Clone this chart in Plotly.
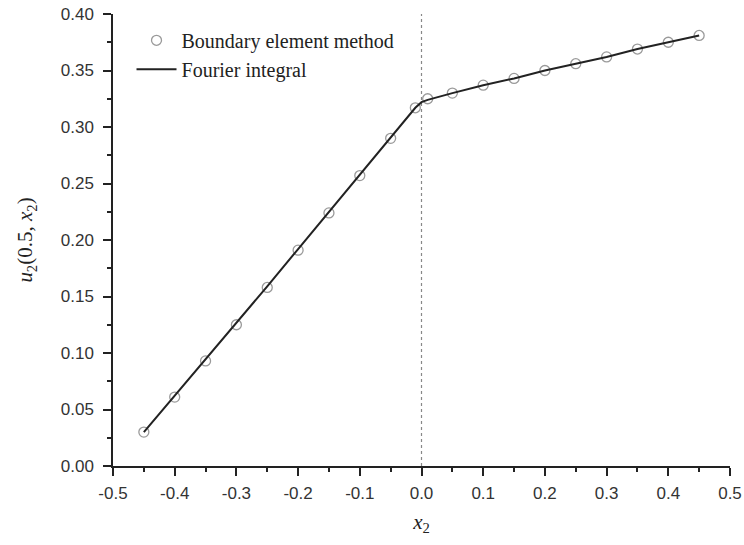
import plotly.graph_objects as go

# Boundary element method (points)
bem_x = [-0.45, -0.40, -0.35, -0.30, -0.25, -0.20, -0.15, -0.10, -0.05, -0.01,
         0.01, 0.05, 0.10, 0.15, 0.20, 0.25, 0.30, 0.35, 0.40, 0.45]
bem_y = [0.030, 0.061, 0.093, 0.125, 0.158, 0.191, 0.224, 0.257, 0.290, 0.317,
         0.325, 0.330, 0.337, 0.343, 0.350, 0.356, 0.362, 0.369, 0.375, 0.381]

# Fourier integral (line)
fi_x = [-0.45, -0.40, -0.35, -0.30, -0.25, -0.20, -0.15, -0.10, -0.05, -0.01, 0.0,
        0.01, 0.05, 0.10, 0.15, 0.20, 0.25, 0.30, 0.35, 0.40, 0.45]
fi_y = [0.030, 0.062, 0.094, 0.126, 0.159, 0.192, 0.225, 0.258, 0.291, 0.317, 0.322,
        0.324, 0.330, 0.337, 0.343, 0.350, 0.356, 0.362, 0.369, 0.375, 0.381]

x_ticks = [-0.5, -0.4, -0.3, -0.2, -0.1, 0.0, 0.1, 0.2, 0.3, 0.4, 0.5]
x_labels = ["-0.5", "-0.4", "-0.3", "-0.2", "-0.1", "0.0", "0.1", "0.2", "0.3", "0.4", "0.5"]
y_ticks = [0.00, 0.05, 0.10, 0.15, 0.20, 0.25, 0.30, 0.35, 0.40]
y_labels = ["0.00", "0.05", "0.10", "0.15", "0.20", "0.25", "0.30", "0.35", "0.40"]

fig = go.Figure()
fig.add_trace(go.Scatter(
    x=bem_x, y=bem_y, mode="markers", name="Boundary element method",
    marker=dict(symbol="circle-open", size=10, color="#9a9a9a", line=dict(width=1.3, color="#9a9a9a")),
))
fig.add_trace(go.Scatter(
    x=fi_x, y=fi_y, mode="lines", name="Fourier integral",
    line=dict(color="#222222", width=2),
))

fig.add_shape(type="line", x0=0, x1=0, y0=0, y1=0.40, xref="x", yref="y",
              line=dict(color="#888888", width=1.2, dash="dot"), layer="below")

axis_common = dict(
    showline=True, linecolor="#222222", linewidth=1.5,
    ticks="outside", ticklen=8, tickwidth=1.5, tickcolor="#222222",
    showgrid=False, zeroline=False, automargin=False, ticklabeloverflow="allow",
    tickfont=dict(family="Liberation Sans, Arial", size=17, color="#333333"),
)

fig.update_xaxes(
    range=[-0.5, 0.5], tickvals=x_ticks, ticktext=x_labels, ticklabelstandoff=3,
    minor=dict(ticks="outside", ticklen=4, tickwidth=1.5, tickcolor="#222222", dtick=0.05, tick0=0, showgrid=False),
    title=dict(text="<i>x</i><sub>2</sub>", font=dict(family="Liberation Serif, Times New Roman", size=21, color="#222222"), standoff=12),
    **axis_common,
)
fig.update_yaxes(
    range=[0, 0.40], tickvals=y_ticks, ticktext=y_labels, ticklabelstandoff=6,
    minor=dict(ticks="outside", ticklen=4, tickwidth=1.5, tickcolor="#222222", dtick=0.025, tick0=0, showgrid=False),
    title=dict(text="<i>u</i><sub>2</sub>(0.5, <i>x</i><sub>2</sub>)", font=dict(family="Liberation Serif, Times New Roman", size=21, color="#222222"), standoff=22),
    **axis_common,
)

fig.update_layout(
    width=744, height=545,
    margin=dict(l=113, r=14, t=14, b=79),
    plot_bgcolor="white", paper_bgcolor="white",
    showlegend=True,
    legend=dict(x=0.03, y=0.985, xanchor="left", yanchor="top",
                bgcolor="rgba(0,0,0,0)",
                font=dict(family="Liberation Serif, Times New Roman", size=20, color="#222222"),
                tracegroupgap=0, itemwidth=40),
)

fig.write_html("out.html", config={"displayModeBar": False},
               post_script="document.body.style.margin='0';")
